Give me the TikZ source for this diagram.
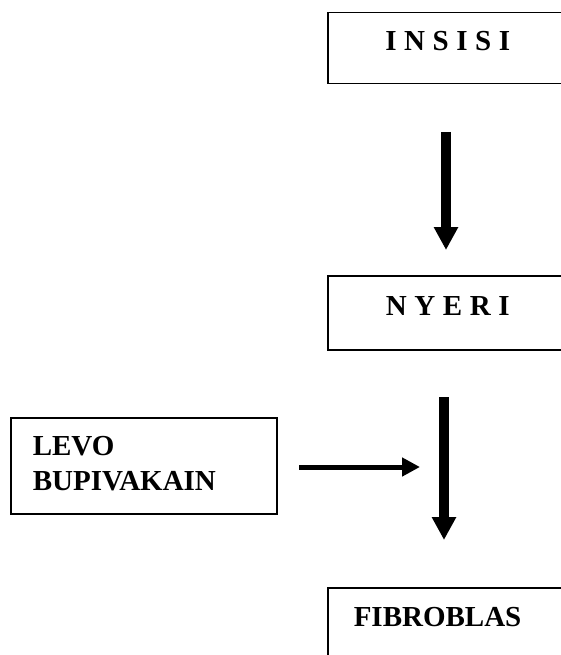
\documentclass[tikz,border=0pt]{standalone}
\usepackage{fontspec}
\setmainfont{Liberation Serif}
\newfontfamily\spaced{Liberation Serif}[LetterSpace=26]
\usetikzlibrary{arrows.meta}

\begin{document}
\begin{tikzpicture}[x=1pt, y=-1pt, >={Triangle[width=23pt,length=23pt]},
    stepbox/.style={draw, line width=1.5pt, font=\fontsize{29}{35}\selectfont\bfseries,
        inner sep=0pt, text height=20pt, text depth=15pt},
    bigarrow/.style={->, line width=10pt},
    sidearrow/.style={-{Triangle[width=18pt,length=18pt]}, line width=5pt}]
    % page size
    \useasboundingbox (0,0) rectangle (561,655);
    \clip (0,0) rectangle (561,655);

    % boxes on the right (cut at the page edge)
    \node[stepbox, anchor=north west, minimum width=240pt, minimum height=71pt]
        (insisi) at (327,12) {\spaced INSISI};
    \node[stepbox, anchor=north west, minimum width=240pt, minimum height=74pt]
        (nyeri) at (327,275) {\spaced NYERI};
    \node[stepbox, anchor=north west, minimum height=71pt, text width=214pt,
        inner xsep=26pt, align=left, text depth=13pt]
        (fibroblas) at (327,587) {FIBROBLAS};

    % box on the left
    \node[stepbox, anchor=north west, minimum width=266pt, minimum height=96pt,
        text width=222pt, inner xsep=22pt, align=left, text height=20pt, text depth=40pt]
        (levo) at (10,417) {LEVO\\BUPIVAKAIN};

    % arrow end points
    \coordinate (a1top) at (446,132);
    \coordinate (a1tip) at (446,250);
    \coordinate (a2top) at (444,397);
    \coordinate (a2tip) at (444,540);
    \coordinate (a3start) at (299,467);
    \coordinate (a3tip) at (420,467);

    % arrows
    \draw[bigarrow] (a1top) -- (a1tip);
    \draw[bigarrow] (a2top) -- (a2tip);
    \draw[sidearrow] (a3start) -- (a3tip);
\end{tikzpicture}
\end{document}
